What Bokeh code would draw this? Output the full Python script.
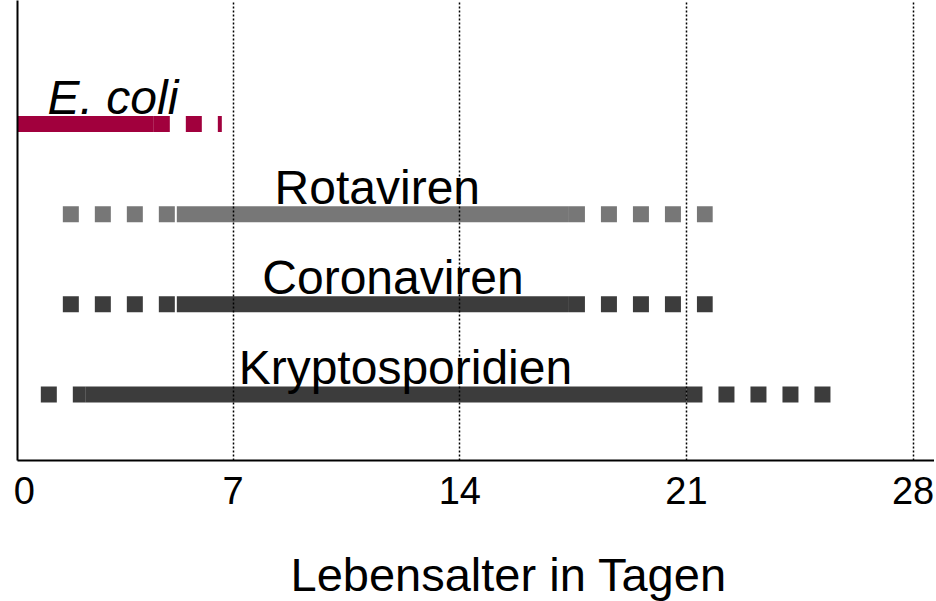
import math
from bokeh.plotting import figure
from bokeh.models import ColumnDataSource, FixedTicker, Range1d, Title
from bokeh.core.properties import value
from bokeh.embed import file_html
from bokeh.resources import INLINE

# ---- data (days) ----
pathogens = ["E. coli", "Rotaviren", "Coronaviren", "Kryptosporidien"]
rows = [4, 3, 2, 1]
possible_start = [float("nan"), 1.74, 1.74, 1.06]
typical_start = [0.0, 5.26, 5.26, 2.45]
typical_end = [4.55, 17.37, 17.37, 21.0]
possible_end = [6.65, 21.81, 21.81, 25.46]
label_x = [1.27, 8.28, 7.9, 7.17]
tick_values = [0.55, 7, 14, 21, 28]
tick_labels = ["0", "7", "14", "21", "28"]
grid_days = [7, 14, 21, 28]
x_label = "Lebensalter in Tagen"

# ---- styles ----
colors = ["#A1003D", "#777777", "#3C3C3C", "#3C3C3C"]
font_styles = ["italic", "normal", "normal", "normal"]
FONT = "Liberation Sans"

p = figure(frame_width=917, frame_height=460,
           x_range=Range1d(0.34, 28.66), y_range=Range1d(0.268, 5.37),
           output_backend="svg", toolbar_location=None,
           min_border_left=17, min_border_right=0, min_border_top=0, min_border_bottom=0)
p.outline_line_color = None
p.background_fill_color = "white"
p.border_fill_color = "white"
p.ygrid.visible = False

# solid (typical) ranges
solid = ColumnDataSource(dict(x0=typical_start, x1=typical_end, y=rows, c=colors))
p.segment(x0="x0", y0="y", x1="x1", y1="y", line_color="c", line_width=16,
          line_cap="butt", source=solid)

# dashed (possible) ranges: before and after
idx = [i for i in range(len(rows)) if not math.isnan(possible_start[i])]
left = ColumnDataSource(dict(x0=[possible_start[i] for i in idx],
                             x1=[typical_start[i] for i in idx],
                             y=[rows[i] for i in idx],
                             c=[colors[i] for i in idx]))
p.segment(x0="x0", y0="y", x1="x1", y1="y", line_color="c", line_width=16,
          line_cap="butt", line_dash="16 16", source=left)
right = ColumnDataSource(dict(x0=typical_end, x1=possible_end, y=rows, c=colors))
p.segment(x0="x0", y0="y", x1="x1", y1="y", line_color="c", line_width=16,
          line_cap="butt", line_dash="16 16", source=right)

# labels
labels = ColumnDataSource(dict(x=label_x, y=rows, t=pathogens, s=font_styles))
p.text(x="x", y="y", text="t", text_font=value(FONT), text_font_size="48px",
       text_font_style="s", text_align="left", text_baseline="alphabetic",
       y_offset=-27, text_color="black", source=labels)

# grid
p.xgrid.ticker = FixedTicker(ticks=grid_days)
p.xgrid.grid_line_color = "black"
p.xgrid.grid_line_dash = "2 2"
p.xgrid.grid_line_width = 1.5
p.xgrid.level = "overlay"

# axes
p.xaxis.ticker = FixedTicker(ticks=tick_values)
p.xaxis.major_label_overrides = {v: l for v, l in zip(tick_values, tick_labels)}
p.xaxis.axis_line_width = 2
p.xaxis.axis_line_color = "black"
p.xaxis.major_tick_line_color = None
p.xaxis.minor_tick_line_color = None
p.xaxis.major_label_text_font = FONT
p.xaxis.major_label_text_font_size = "38px"
p.xaxis.major_label_text_color = "black"
p.xaxis.major_label_standoff = 10

p.yaxis.ticker = FixedTicker(ticks=[])
p.yaxis.axis_line_width = 2
p.yaxis.axis_line_color = "black"
p.yaxis.major_tick_line_color = None
p.yaxis.minor_tick_line_color = None
p.yaxis.major_label_text_font_size = "0px"

t = Title(text=x_label, align="left", offset=273, text_font=FONT,
          text_font_size="47px", text_font_style="normal", text_color="black")
try:
    t.standoff = 79
except Exception:
    pass
p.add_layout(t, "below")

open("out.html", "w").write(file_html(p, INLINE))
